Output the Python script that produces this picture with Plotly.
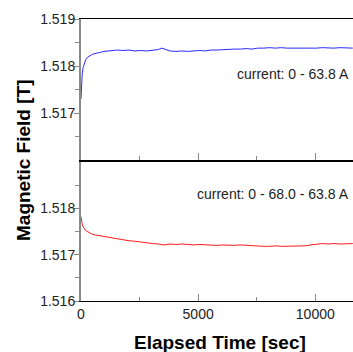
import plotly.graph_objects as go

# ---- data ----
t_blue = [0, 20, 50, 90, 140, 200, 270, 350, 450, 560, 680, 820, 980, 1150, 1350, 1550, 1800, 2050,
          2300, 2550, 2800, 3050, 3300, 3450, 3600, 3800, 4050, 4300, 4550, 4800, 5050, 5300, 5550,
          5800, 6050, 6300, 6550, 6800, 7050, 7300, 7550, 7800, 8050, 8300, 8550, 8800, 9050, 9300,
          9550, 9800, 10050, 10300, 10550, 10800, 11050, 11300, 11600]
b_blue = [1.51730, 1.51762, 1.51782, 1.51797, 1.51806, 1.51813, 1.51818, 1.51821, 1.51824, 1.51826,
          1.51828, 1.51829, 1.51831, 1.51832, 1.51833, 1.51834, 1.51833, 1.51834, 1.51832, 1.51833,
          1.51832, 1.51834, 1.51835, 1.51838, 1.51836, 1.51832, 1.51831, 1.51832, 1.51831, 1.51832,
          1.51833, 1.51832, 1.51834, 1.51834, 1.51835, 1.51835, 1.51836, 1.51836, 1.51837, 1.51836,
          1.51838, 1.51838, 1.51839, 1.51838, 1.51839, 1.51838, 1.51838, 1.51837, 1.51838, 1.51837,
          1.51838, 1.51839, 1.51838, 1.51838, 1.51839, 1.51838, 1.51838]

t_red = [0, 20, 50, 90, 140, 200, 270, 350, 450, 560, 680, 820, 980, 1150, 1350, 1550, 1800, 2050,
         2300, 2550, 2800, 3050, 3300, 3550, 3800, 4050, 4300, 4550, 4800, 5050, 5300, 5550, 5800,
         6050, 6300, 6550, 6800, 7050, 7300, 7550, 7800, 8050, 8300, 8550, 8800, 9050, 9300, 9550,
         9800, 10050, 10300, 10550, 10800, 11050, 11300, 11600]
b_red = [1.51782, 1.51774, 1.51766, 1.51760, 1.51756, 1.51752, 1.51750, 1.51747, 1.51745, 1.51743,
         1.51742, 1.51740, 1.51738, 1.51737, 1.51735, 1.51734, 1.51732, 1.51730, 1.51729, 1.51727,
         1.51726, 1.51724, 1.51723, 1.51721, 1.51723, 1.51722, 1.51723, 1.51722, 1.51721, 1.51722,
         1.51721, 1.51721, 1.51720, 1.51721, 1.51720, 1.51720, 1.51721, 1.51720, 1.51719, 1.51719,
         1.51718, 1.51718, 1.51719, 1.51718, 1.51718, 1.51718, 1.51718, 1.51719, 1.51721, 1.51723,
         1.51724, 1.51723, 1.51724, 1.51723, 1.51723, 1.51724]

top_ticks = [1.517, 1.518, 1.519]
bot_ticks = [1.516, 1.517, 1.518]
minor_y = [1.5165, 1.5175, 1.5185]
x_ticks = [0, 5000, 10000]
label_top = "current: 0 - 63.8 A"
label_bot = "current: 0 - 68.0 - 63.8 A"

W, H = 353, 352
FONT = "Arial, Liberation Sans, sans-serif"
GRAY = "#8a8a8a"

fig = go.Figure()
fig.add_trace(go.Scatter(x=t_blue, y=b_blue, mode="lines", line=dict(color="#2a2aff", width=1),
                         xaxis="x", yaxis="y", showlegend=False))
fig.add_trace(go.Scatter(x=t_red, y=b_red, mode="lines", line=dict(color="#ff1a1a", width=1),
                         xaxis="x2", yaxis="y2", showlegend=False))

xdom = [81 / W, 1.0]
xrange_ = [0, 11610]
common_x = dict(domain=xdom, range=xrange_, showline=True, linecolor="black", linewidth=1,
                mirror=True, ticks="inside", ticklen=7, tickcolor=GRAY, tickwidth=1,
                tickvals=x_ticks, tickformat="d", showgrid=False, zeroline=False, automargin=False,
                minor=dict(dtick=2500, tick0=0, ticks="inside", ticklen=4, tickcolor=GRAY),
                tickfont=dict(family=FONT, size=14, color="#222"))
common_y = dict(range=[1.516, 1.519], showline=True, linecolor=GRAY, linewidth=2,
                ticks="outside", ticklen=5, tickcolor=GRAY, tickwidth=1, showgrid=False,
                zeroline=False, tickformat=".3f", automargin=False, ticklabelstandoff=-4,
                minor=dict(tickvals=minor_y, ticks="outside", ticklen=4, tickcolor=GRAY),
                tickfont=dict(family=FONT, size=14, color="#222"))

fig.update_layout(
    width=W, height=H, margin=dict(l=0, r=0, t=0, b=0, autoexpand=False),
    paper_bgcolor="white", plot_bgcolor="white",
    xaxis=dict(common_x, anchor="y", showticklabels=False),
    yaxis=dict(common_y, domain=[1 - 160 / H, 1 - 19 / H], anchor="x", tickvals=top_ticks),
    xaxis2=dict(common_x, anchor="y2", matches="x", showticklabels=True),
    yaxis2=dict(common_y, domain=[1 - 301 / H, 1 - 162 / H], anchor="x2", tickvals=bot_ticks),
    annotations=[
        dict(text=label_top, x=351 / W, y=1 - 74 / H, xref="paper", yref="paper",
             xanchor="right", yanchor="middle", showarrow=False,
             font=dict(family=FONT, size=14, color="#222")),
        dict(text=label_bot, x=351 / W, y=1 - 194 / H, xref="paper", yref="paper",
             xanchor="right", yanchor="middle", showarrow=False,
             font=dict(family=FONT, size=14, color="#222")),
        dict(text="<b>Magnetic Field [T]</b>", x=23 / W, y=1 - 160 / H, xref="paper",
             yref="paper", xanchor="center", yanchor="middle", textangle=-90,
             showarrow=False, font=dict(family=FONT, size=19, color="black")),
        dict(text="<b>Elapsed Time [sec]</b>", x=220 / W, y=1 - 342 / H, xref="paper",
             yref="paper", xanchor="center", yanchor="middle", showarrow=False,
             font=dict(family=FONT, size=19, color="black")),
    ],
)

fig.write_html("out.html", config={"displayModeBar": False},
               post_script="document.body.style.margin='0';document.body.style.overflow='hidden';")
